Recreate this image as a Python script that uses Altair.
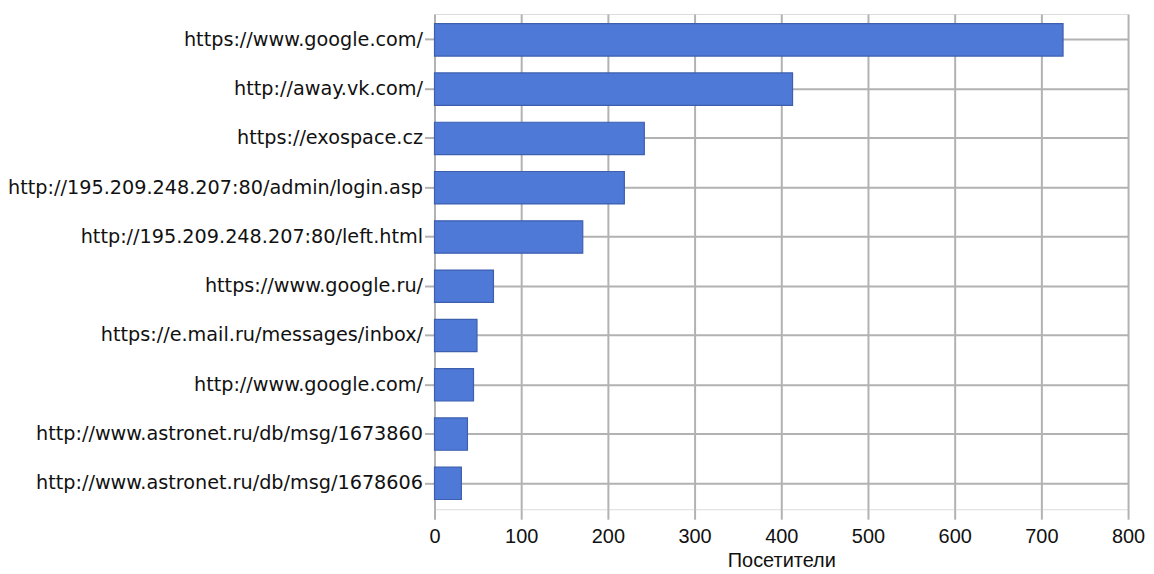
import altair as alt
import pandas as pd

urls = [
    "https://www.google.com/",
    "http://away.vk.com/",
    "https://exospace.cz",
    "http://195.209.248.207:80/admin/login.asp",
    "http://195.209.248.207:80/left.html",
    "https://www.google.ru/",
    "https://e.mail.ru/messages/inbox/",
    "http://www.google.com/",
    "http://www.astronet.ru/db/msg/1673860",
    "http://www.astronet.ru/db/msg/1678606",
]
visitors = [725, 413, 242, 219, 171, 68, 49, 45, 38, 31]
x_ticks = [0, 100, 200, 300, 400, 500, 600, 700, 800]

df = pd.DataFrame({"url": urls, "visitors": visitors})

grid_color = "#b2b2b2"

chart = alt.Chart(df).mark_bar(
    color="#4f79d6", stroke="#3d5fae", strokeWidth=1.2
).encode(
    x=alt.X(
        "visitors:Q",
        title="Посетители",
        scale=alt.Scale(domain=[0, 800], nice=False),
        axis=alt.Axis(
            values=x_ticks,
            grid=True,
            gridColor=grid_color,
            gridWidth=2,
            tickColor=grid_color,
            tickWidth=2,
            tickSize=10,
            domain=False,
            labelFlush=False,
            labelFont="Liberation Sans",
            labelFontSize=20,
            labelColor="#111111",
            labelPadding=7,
            titleFont="Liberation Sans",
            titleFontSize=20,
            titleFontWeight="normal",
            titleColor="#111111",
            titlePadding=4,
        ),
    ),
    y=alt.Y(
        "url:N",
        title=None,
        sort=urls,
        scale=alt.Scale(paddingInner=0.343, paddingOuter=0.197),
        axis=alt.Axis(
            grid=True,
            gridColor=grid_color,
            gridWidth=2,
            bandPosition=0.5,
            tickColor=grid_color,
            tickWidth=2,
            tickSize=10,
            domain=False,
            labelFont="DejaVu Sans",
            labelFontSize=19.3,
            labelColor="#111111",
            labelPadding=2,
            labelLimit=600,
        ),
    ),
).properties(
    width=696,
    height=497,
    autosize=alt.AutoSizeParams(type="none"),
    padding={"left": 428, "top": 5, "right": 18, "bottom": 63},
).configure_view(
    stroke="#a8a8a8", strokeWidth=2
).configure(background="white")

chart.save("out.html", embed_options={"renderer": "svg", "actions": False})
